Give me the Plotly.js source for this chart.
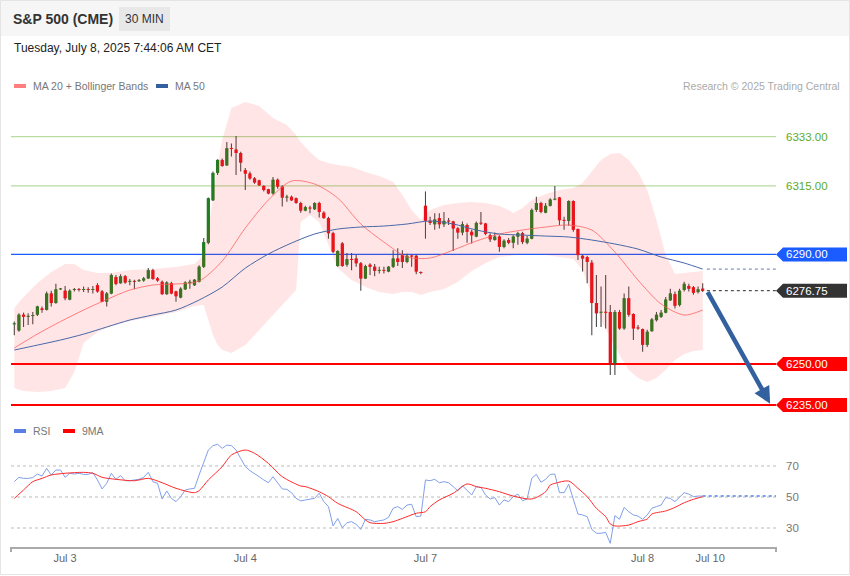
<!DOCTYPE html>
<html><head><meta charset="utf-8">
<script src="https://cdn.plot.ly/plotly-3.0.1.min.js"></script>
<style>html,body{margin:0;padding:0;background:#fff;}#chart{width:850px;height:576px;}</style>
</head><body><div id="chart"></div>
<script>
// ---------------- DATA ----------------
const open = [6264.5,6262.25,6268,6267.25,6267.5,6268,6270.25,6269.75,6275.75,6272.25,6277.25,6276.75,6273.5,6277,6277.25,6277,6277.25,6277,6278.75,6276.5,6272.75,6275.75,6281.75,6279.5,6282,6280,6280.25,6280.25,6280.5,6281.25,6284.25,6281.25,6280,6275.5,6279.5,6276.5,6274.25,6277.25,6279.5,6278.75,6280,6285.5,6294.25,6309.75,6319.75,6324.5,6322.5,6328.75,6328.25,6327,6320.75,6319.5,6317.75,6317,6315,6313.75,6312.25,6317.25,6314.75,6310.75,6311,6310.5,6308.75,6306,6307,6306.5,6308.75,6305.25,6303.25,6297.75,6285.75,6294,6286.25,6288.25,6288.5,6286.75,6281.25,6286.25,6285.5,6284,6284.25,6283.75,6285.5,6288.5,6289.75,6287.25,6289.5,6289.5,6283.5,6307.75,6302.25,6301,6303.25,6301,6302.25,6302,6299.5,6298,6300.75,6298.25,6296.5,6301.5,6301.25,6297,6295.25,6296.5,6292.75,6295.25,6294.25,6296.5,6297.75,6294.25,6295.75,6306.25,6308.75,6305.25,6307.75,6310,6310.75,6302.5,6302.25,6309.5,6299.25,6289.5,6289,6287,6272.25,6268.75,6269,6269,6250.25,6269,6263,6274,6268.25,6263.25,6262.75,6257,6262,6266,6267.25,6268.75,6273.25,6275.5,6271.5,6277,6278.5,6278,6276.25,6277.5];
const high = [6265.5,6268.5,6268.75,6268.5,6269,6271.25,6271,6276.5,6276.75,6279.25,6277.75,6278.5,6277.25,6277.75,6277.75,6278.25,6278,6278.5,6279.5,6277,6276.25,6283,6282.5,6282.75,6282.5,6281,6280.75,6281,6281.75,6285,6284.75,6281.75,6280.5,6280.25,6280,6276.75,6278,6280.25,6280.75,6281,6286,6296,6310.75,6320.25,6324.75,6325,6331,6330.5,6333.25,6327.5,6321.5,6320.25,6318.25,6317.25,6315.25,6314,6318.25,6317.75,6315.25,6311.75,6311.5,6310.75,6309.25,6307.75,6307.75,6309,6309.25,6305.75,6303.75,6298.25,6291.5,6294.5,6290.5,6290.5,6289.75,6287.25,6286.25,6286.75,6286.5,6285.5,6285.5,6285.75,6291.5,6292.25,6291.5,6290.25,6289.75,6289.75,6283.75,6313,6303.75,6305,6305,6305.5,6303.25,6302.25,6300,6302,6301.25,6299,6302,6305.5,6301.5,6297.75,6298,6297,6295.5,6296,6297,6298.25,6298.25,6296.75,6306.75,6311,6309.25,6308.75,6310.5,6315,6311,6303.75,6309.75,6309.75,6299.5,6289.75,6289.5,6288,6282.5,6278.25,6282.5,6271.5,6269.75,6269.75,6275.75,6278.25,6268.5,6264.25,6263,6262.5,6266.75,6269,6269.75,6274.5,6277.5,6276.5,6277.5,6280,6279.25,6278.5,6278.25,6279.5];
const low = [6260.5,6261.75,6263.5,6264.25,6264.5,6267.5,6268.75,6269.5,6271,6272,6277,6273.25,6273.25,6276.5,6276.5,6276.25,6276,6275.75,6276,6272.5,6271,6275.5,6278.75,6279.25,6279.25,6278.75,6277.25,6280,6280,6281,6280.75,6280,6275.25,6275.25,6275.5,6272.75,6274,6277,6277.5,6278.5,6279.75,6285,6293.75,6309.5,6319,6322,6322.25,6325.75,6319,6320.25,6313.5,6317.25,6315.75,6315,6313,6312,6311.75,6314,6307.5,6309.25,6309.5,6308.5,6305.25,6305.75,6305,6306.25,6303.5,6303,6295.75,6290.5,6285.5,6285.5,6285.5,6284.25,6285.5,6276.75,6281,6282.5,6282,6283,6283,6283.5,6285,6285.75,6285,6286.75,6285.5,6282.75,6282.75,6295.75,6300.75,6299,6299.5,6300,6300.75,6291.25,6295.75,6297,6294.25,6294,6296.25,6300.75,6297,6294.5,6295,6291,6292.25,6293.75,6292.25,6293.5,6293.75,6293.75,6295.5,6305.5,6305,6305,6307.5,6309.75,6300.75,6299,6300.5,6298.25,6288,6283.75,6279.5,6260.5,6263.5,6263.5,6263,6246,6246,6262.5,6262.5,6267.25,6258.75,6262.5,6254.5,6256.25,6261.75,6265.5,6266.75,6268.5,6273,6270.25,6271,6276.5,6276.5,6275.25,6275.75,6276.25];
const close = [6264.75,6268,6267.25,6267.5,6267.75,6271,6269.75,6275.75,6272.25,6277.25,6277.5,6274,6276.75,6277.25,6277,6277.25,6277,6277.25,6276.5,6272.75,6275.75,6282.5,6279.25,6282,6279.75,6280.25,6280,6280.5,6281.25,6284.25,6281,6280.5,6275.5,6279.75,6275.75,6274.75,6277.5,6279.75,6280,6280.75,6285.5,6294.5,6310.5,6319.75,6324.5,6322.25,6328.75,6328.5,6327,6323.5,6319.5,6317.75,6316.25,6315.25,6313.5,6312.25,6317.25,6314.75,6310.75,6311,6309.75,6308.75,6306,6307.25,6306.75,6308.75,6305.5,6303.25,6297.75,6291,6291.25,6285.75,6288.25,6288,6286.75,6281.25,6285.75,6285.5,6284,6284.25,6284,6285.5,6288.5,6287.25,6287.25,6289.5,6289.25,6283.75,6283.25,6302.25,6301.5,6302.75,6301,6302.25,6302,6299.5,6298,6301,6298.25,6297,6301.5,6301.25,6297.5,6295.5,6296.5,6292.75,6295,6294.25,6296.5,6297.75,6294.5,6295.75,6306.25,6308.75,6305.5,6307.75,6310,6310.25,6302.5,6302.25,6309.5,6299,6289.75,6288.5,6287.25,6272.25,6268.5,6269,6268.75,6250.25,6269,6263,6274,6268,6263,6263,6257,6261.75,6266.25,6268,6268.75,6273.5,6275.75,6271.25,6276.75,6279.25,6277.5,6276,6277.25,6276.75];

// moving averages sampled along the candles (candle index -> value)
const maIdx = [0,5,10,15,20,25,30,35,40,45,50,55,60,65,70,75,80,85,90,95,100,105,110,115,120,125,130,135,140,145,149];
const ma20 = [6255.83,6260.94,6265.5,6269.7,6273.53,6277,6278.82,6279.19,6280.28,6287.58,6299.63,6309.85,6316.78,6315.69,6310.58,6301.09,6294.52,6289.04,6288.68,6291.6,6294.88,6297.44,6298.9,6299.99,6300.72,6298.9,6290.87,6280.65,6271.89,6267.87,6269.7];
const ma50 = [6255.1,6256.9,6258.75,6260.9,6263.5,6266.05,6267.9,6269.7,6273.35,6278.1,6285,6290.15,6294.15,6297.45,6299.25,6300,6300.35,6301.1,6302.2,6301.1,6298.9,6297.45,6297.05,6296.7,6296.35,6295.25,6293.8,6291.95,6289.05,6286.85,6284.65];

// Bollinger bands (candle index -> value)
const bandIdx = [0,2,5,8,11,13,15,18,21,25,30,35,39,41,42,43,44,45,47,50,53,56,59,61,62,64,66,68,70,73,76,79,82,84,86,88,90,93,96,99,102,105,107,108,110,112,115,118,121,123,125,127,129,131,133,135,137,139,141,143,145,147,149];
const bbUpper = [6270.43,6274.44,6279.55,6283.57,6286.49,6286.49,6284.3,6283.2,6283.2,6284.3,6284.66,6285.39,6286.49,6289.77,6298.9,6311.67,6322.62,6331.75,6343.43,6345.62,6344.16,6339.78,6337.22,6333.57,6331.02,6327.37,6324.45,6323.35,6322.62,6321.89,6320.07,6318.61,6316.42,6311.67,6306.2,6302.55,6306.2,6308.02,6308.75,6309.12,6308.75,6307.66,6306.2,6305.1,6306.93,6309.85,6312.04,6313.5,6314.23,6316.05,6320.07,6324.45,6326.64,6327,6324.45,6320.07,6313.5,6302.55,6289.77,6282.84,6283.2,6283.57,6283.93];
const bbLower = [6241.23,6240.13,6239.77,6240.13,6241.23,6247.07,6257.65,6261.67,6263.86,6265.68,6267.14,6268.97,6271.16,6271.52,6266.05,6260.57,6256.92,6255.1,6254,6256.92,6262.4,6267.87,6273.35,6277,6301.82,6304.37,6301.82,6293.42,6285.03,6280.65,6278.09,6276.27,6275.54,6276.27,6276.27,6275.17,6276.27,6277.36,6279.92,6283.93,6286.85,6289.04,6289.41,6289.77,6290.14,6290.14,6289.77,6289.04,6288.31,6284.3,6275.17,6266.05,6259.48,6253.27,6247.8,6244.88,6243.42,6244.88,6247.8,6251.45,6253.64,6254.73,6255.1];

// RSI per candle
const rsi = [59.9,62.7,62.0,62.0,62.5,64.8,63.5,68.5,64.2,67.4,67.4,62.7,65.3,64.8,65.3,64.6,64.6,65.7,61.0,55.2,58.8,65.3,61.4,63.8,60.5,60.5,61.0,61.4,62.7,65.9,59.9,58.8,48.7,53.9,49.1,47.0,50.2,54.5,55.2,55.6,64.2,72.8,80.3,83.1,84.0,81.4,83.5,83.1,80.3,74.9,69.6,67.0,65.3,63.1,61.0,59.2,63.1,59.2,55.2,54.9,52.8,49.1,
 47.5,
 48.1,48.5,49.1,52.4,47.0,43.8,31.3,36.2,30.2,33.4,34.1,32.4,29.1,35.6,35.2,34.1,34.5,35.2,36.9,42.7,43.8,42.0,44.8,45.3,37.3,37.7,61.0,60.5,61.4,59.2,59.9,59.2,56.7,53.9,57.3,54.5,51.3,56.7,56.2,51.3,48.7,49.6,44.8,48.1,47.0,50.2,51.9,47.6,48.7,62.0,64.6,59.5,61.4,
 64.6,64.8,52.8,52.8,58.2,48.1,39.0,38.4,37.3,29.1,26.6,26.6,27.2,20.1,38.0,35.6,43.3,40.5,38.4,37.7,35.6,38.4,42.7,43.8,44.8,49.6,49.1,47.0,50.2,52.8,51.9,50.2,50.6,50.6];
// RSI 9-period MA (candle index -> value)
const rsiMaIdx = [0,2,4,6,8,11,15,17,19,22,26,29,32,35,39,40,42,45,47,50,52,55,58,62,63,66,68,70,74,76,77,80,82,84,87,89,90,92,95,98,100,102,105,108,112,115,116,117,120,122,124,126,128,129,130,133,135,137,138,141,143,145,147,149];
const rsiMa = [49.1,54.5,59.9,62.0,64.2,65.3,65.9,65.3,62.7,61.4,60.5,62.0,59.2,55.6,52.8,54.1,61.0,69.6,77.1,80.3,78.2,71.7,63.1,57.1,56.7,53.4,50.2,45.9,40.5,35.2,33.4,33.0,34.1,36.2,39.5,40.5,43.8,48.1,52.4,58.4,56.7,55.6,53.4,50.6,48.7,53.4,57.7,58.8,60.3,55.6,50.2,42.7,37.3,32.6,31.3,31.9,34.1,35.8,39.0,41.0,43.3,46.3,48.5,50.2];

// key levels
const resistLevels = [6333.00, 6315.00];
const pivotLevel = 6290.00;
const supportLevels = [6250.00, 6235.00];
const rsiLevels = [70, 50, 30];

// x axis labels
const tickLabels = ['Jul 3', 'Jul 4', 'Jul 7', 'Jul 8', 'Jul 10'];
const tickPos = [11, 50, 89, 136, 150.6];

// ---------------- LAYOUT HELPERS ----------------
const FONT = 'Arial, "Liberation Sans", "DejaVu Sans", sans-serif';
const W = 850, H = 576, PL = 11, PR = 776;
const px = x => (x - PL) / (PR - PL);
const py = y => 1 - y / H;

const idx = close.map((_, i) => i);
const N = close.length, last = N - 1;
const lastClose = close[last];
const GREEN = '#217d21', RED = '#e4141b';
const isUp = close.map((c, i) => c >= open[i]);

const traces = [];
traces.push({type:'scatter', x: bandIdx, y: bbUpper, mode:'lines', line:{width:0, color:'rgba(255,0,0,0)'}, hoverinfo:'skip', xaxis:'x', yaxis:'y'});
traces.push({type:'scatter', x: bandIdx, y: bbLower, mode:'lines', line:{width:0, color:'rgba(255,0,0,0)'}, fill:'tonexty', fillcolor:'rgba(255,40,40,0.12)', hoverinfo:'skip', xaxis:'x', yaxis:'y'});
traces.push({type:'scatter', x: maIdx, y: ma20, mode:'lines', line:{width:1, color:'rgba(255,90,90,0.75)', shape:'spline', smoothing:0.8}, hoverinfo:'skip', xaxis:'x', yaxis:'y'});
traces.push({type:'scatter', x: maIdx, y: ma50, mode:'lines', line:{width:1, color:'#4868a8', shape:'spline', smoothing:0.8}, hoverinfo:'skip', xaxis:'x', yaxis:'y'});
// wicks
traces.push({type:'bar', x: idx, base: low, y: high.map((h, i) => h - low[i]), width: 0.24, marker:{color:'#4a4a4a', line:{width:0}}, hoverinfo:'skip', xaxis:'x', yaxis:'y'});
// bodies (full width)
traces.push({type:'bar', x: idx, base: open.map((o, i) => Math.min(o, close[i])), y: open.map((o, i) => Math.max(Math.abs(close[i] - o), 0.35)),
  width: 0.7, marker:{color: open.map((o, i) => Math.abs(close[i]-o) < 0.01 ? '#4a4a4a' : (isUp[i] ? GREEN : RED)), line:{width:0}}, hoverinfo:'skip', xaxis:'x', yaxis:'y'});
// candlestick
traces.push({type:'candlestick', x: idx, open: open, high: high, low: low, close: close,
  increasing:{line:{color:GREEN, width:0}, fillcolor:GREEN},
  decreasing:{line:{color:RED, width:0}, fillcolor:RED},
  whiskerwidth:0, hoverinfo:'skip', xaxis:'x', yaxis:'y'});
// RSI
traces.push({type:'scatter', x: idx, y: rsi, mode:'lines', line:{width:1, color:'#819fe9'}, hoverinfo:'skip', xaxis:'x', yaxis:'y2'});
traces.push({type:'scatter', x: rsiMaIdx, y: rsiMa, mode:'lines', line:{width:1, color:'#ff2a2a', shape:'spline', smoothing:0.8}, hoverinfo:'skip', xaxis:'x', yaxis:'y2'});

const xMax = (PR - 14.3) / 4.62;
const shapes = [];
const ann = [];
// header band + border
shapes.push({type:'rect', xref:'paper', yref:'paper', x0:px(0), x1:px(850), y0:py(36), y1:py(0), fillcolor:'#f6f6f6', line:{width:0}, layer:'below'});
shapes.push({type:'rect', xref:'paper', yref:'paper', x0:px(119), x1:px(170), y0:py(31), y1:py(7), fillcolor:'#e8e8e8', line:{width:0}, layer:'below'});
shapes.push({type:'rect', xref:'paper', yref:'paper', x0:px(0.5), x1:px(849.5), y0:py(574.5), y1:py(0.5), fillcolor:'rgba(0,0,0,0)', line:{width:1, color:'#e4e4e4'}, layer:'below'});
ann.push({xref:'paper', yref:'paper', x:px(11), y:py(19), xanchor:'left', yanchor:'middle', text:'<b>S&P 500 (CME)</b>', showarrow:false, font:{family:FONT, size:14, color:'#333'}});
ann.push({xref:'paper', yref:'paper', x:px(144.5), y:py(19), xanchor:'center', yanchor:'middle', text:'30 MIN', showarrow:false, font:{family:FONT, size:12, color:'#333'}});
ann.push({xref:'paper', yref:'paper', x:px(12), y:py(48), xanchor:'left', yanchor:'middle', text:'Tuesday, July 8, 2025 7:44:06 AM CET', showarrow:false, font:{family:FONT, size:12, color:'#222'}});
// legends
function swatch(x0, y, color){ shapes.push({type:'rect', xref:'paper', yref:'paper', x0:px(x0), x1:px(x0+12), y0:py(y+2), y1:py(y-2), fillcolor:color, line:{width:0}}); }
function legText(x, y, t, c){ ann.push({xref:'paper', yref:'paper', x:px(x), y:py(y), xanchor:'left', yanchor:'middle', text:t, showarrow:false, font:{family:FONT, size:10.5, color:c||'#777'}}); }
swatch(14, 86, '#ff7f7f'); legText(31, 86, 'MA 20 + Bollinger Bands');
swatch(156, 86, '#33609e'); legText(173, 86, 'MA 50');
ann.push({xref:'paper', yref:'paper', x:px(842), y:py(86), xanchor:'right', yanchor:'middle', text:'Research © 2025 Trading Central', showarrow:false, font:{family:FONT, size:10.5, color:'#aaa'}});
swatch(14, 431, '#5b7fe0'); legText(31, 431, 'RSI');
swatch(63, 431, '#ff0000'); legText(80, 431, '9MA');

// level lines
function hline(v, color, w, yref){ shapes.push({type:'line', xref:'paper', yref:yref||'y', x0:0, x1:1, y0:v, y1:v, line:{color:color, width:w}, layer:'below'}); }
function tag(v, color){
  shapes.push({type:'path', xref:'paper', yref:'y', xsizemode:'pixel', ysizemode:'pixel', xanchor:1, yanchor:v, path:'M0,0L7,7L71,7L71,-7L7,-7Z', fillcolor:color, line:{width:0}});
  ann.push({xref:'paper', yref:'y', x:px(784), y:v, xanchor:'left', yanchor:'middle', text:v.toFixed(2), showarrow:false, font:{family:FONT, size:11.5, color:'#fff'}});
}
resistLevels.forEach(v => { hline(v, '#b7dca0', 1.2);
  ann.push({xref:'paper', yref:'y', x:px(784), y:v, xanchor:'left', yanchor:'middle', text:v.toFixed(2), showarrow:false, font:{family:FONT, size:11.5, color:'#5aab2a'}}); });
hline(pivotLevel, '#1a5cff', 1.2); tag(pivotLevel, '#1a5cff');
supportLevels.forEach(v => { hline(v, '#ff0000', 2); tag(v, '#ff0000'); });
tag(lastClose, '#333333');
// dotted extensions
shapes.push({type:'line', xref:'x', yref:'y', x0:last+0.9, x1:xMax, y0:ma50[ma50.length-1], y1:ma50[ma50.length-1], line:{color:'#8796b8', width:1.2, dash:'dot'}});
shapes.push({type:'line', xref:'x', yref:'y', x0:last+0.9, x1:xMax, y0:lastClose, y1:lastClose, line:{color:'#555', width:1.2, dash:'dot'}});
// RSI levels
rsiLevels.forEach(v => { shapes.push({type:'line', xref:'paper', yref:'y2', x0:0, x1:1, y0:v, y1:v, line:{color:'#bbb', width:1, dash:'dot'}, layer:'below'});
  ann.push({xref:'paper', yref:'y2', x:px(784), y:v, xanchor:'left', yanchor:'middle', text:String(v), showarrow:false, font:{family:FONT, size:11.5, color:'#777'}}); });
shapes.push({type:'line', xref:'x', yref:'y2', x0:last, x1:xMax, y0:rsi[last], y1:rsi[last], line:{color:'#7f9ee8', width:2, dash:'dot'}});
// axis end ticks
[11, 776].forEach(x => shapes.push({type:'line', xref:'paper', yref:'paper', x0:px(x), x1:px(x), y0:py(547), y1:py(552), line:{color:'#aaa', width:2}}));
// arrow
ann.push({xref:'x', yref:'y', axref:'x', ayref:'y', x:last+14.6, y:supportLevels[1]+0.5, ax:last+0.9, ay:lastClose, text:'', showarrow:true, arrowhead:2, arrowsize:0.75, arrowwidth:4.5, arrowcolor:'#33609e', standoff:0, startstandoff:0});

const layout = {
  width:W, height:H, margin:{l:PL, r:W-PR, t:0, b:0, pad:0},
  paper_bgcolor:'#ffffff', plot_bgcolor:'rgba(0,0,0,0)', showlegend:false, barmode:'overlay',
  font:{family:FONT, size:11, color:'#666'},
  xaxis:{domain:[0,1], range:[(PL-14.3)/4.62, xMax], anchor:'y2', showgrid:false, zeroline:false, showline:true, linecolor:'#aaa', linewidth:2,
         tickvals:tickPos, ticktext:tickLabels, ticks:'', tickfont:{family:FONT, size:11, color:'#666'}, rangeslider:{visible:false}, fixedrange:true},
  yaxis:{domain:[1-415/H, 1-95/H], range:[6231.39, 6348.18], visible:false, fixedrange:true},
  yaxis2:{domain:[1-547/H, 1-440/H], range:[17.74, 86.77], visible:false, fixedrange:true},
  shapes:shapes, annotations:ann
};
Plotly.newPlot('chart', traces, layout, {staticPlot:true, displayModeBar:false});
</script></body></html>
